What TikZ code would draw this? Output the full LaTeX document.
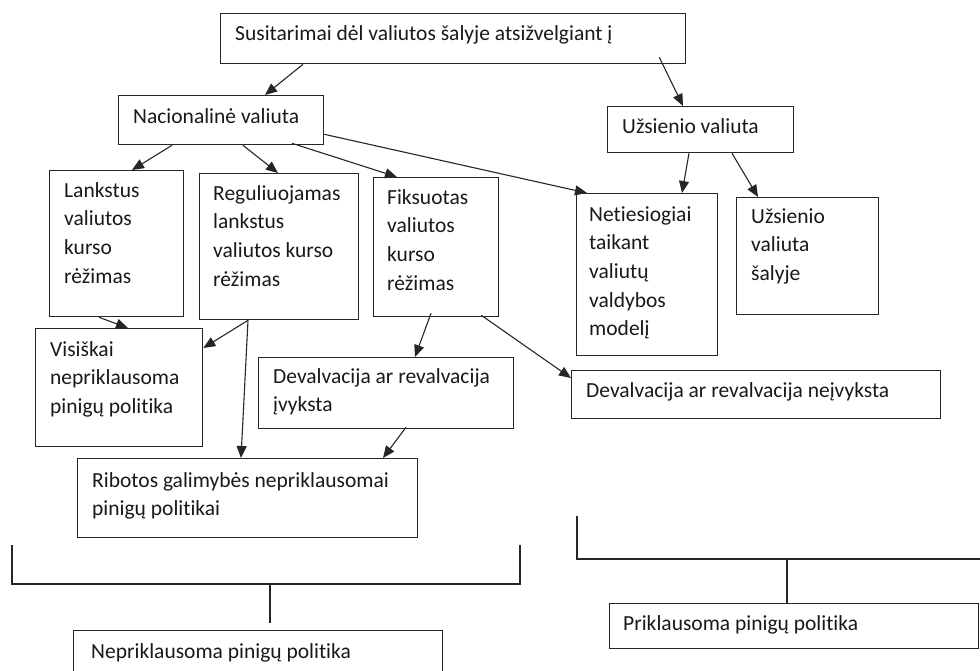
\documentclass[tikz,border=0pt]{standalone}
\usepackage{fontspec}
\setmainfont{Carlito}[RawFeature={-liga;-clig;-calt;-dlig}]
\usetikzlibrary{arrows.meta,calc}
\begin{document}
\begin{tikzpicture}[x=1pt,y=-1pt,
  box/.style={draw=black!85, line width=1.3pt, rectangle, inner sep=0pt, anchor=north west},
  txt/.style={anchor=base west, inner sep=0pt, font=\fontsize{21.5}{28.7}\selectfont, text=black!90},
  arr/.style={draw=black!85, line width=1.1pt, -{Triangle[length=12pt,width=10pt]}},
  ln/.style={draw=black!85, line width=1.1pt}]
\useasboundingbox (0,0) rectangle (980,670);
% boxes
\node[box, minimum width=465pt, minimum height=50pt] (top) at (220,13) {};
\node[box, minimum width=205pt, minimum height=49pt] (nac) at (118,95) {};
\node[box, minimum width=186pt, minimum height=46pt] (uzs) at (607,106) {};
\node[box, minimum width=134pt, minimum height=146pt] (lank) at (49,170) {};
\node[box, minimum width=159pt, minimum height=146pt] (reg) at (199,173) {};
\node[box, minimum width=125pt, minimum height=139pt] (fiks) at (373,177) {};
\node[box, minimum width=141pt, minimum height=162pt] (neti) at (576,193) {};
\node[box, minimum width=142pt, minimum height=117pt] (sal) at (736,197) {};
\node[box, minimum width=167pt, minimum height=118pt] (vis) at (35,328) {};
\node[box, minimum width=255pt, minimum height=71pt] (devi) at (258,357) {};
\node[box, minimum width=369pt, minimum height=48pt] (devn) at (571,370) {};
\node[box, minimum width=340pt, minimum height=79pt] (rib) at (77,458) {};
\node[box, minimum width=369pt, minimum height=60pt] (nep) at (73,630) {};
\node[box, minimum width=369pt, minimum height=45pt] (pri) at (609,603) {};
% texts
\node[txt] (ttop) at (235,40) {Susitarimai dėl valiutos šalyje atsižvelgiant į};
\node[txt] (tnac) at (133,123) {Nacionalinė valiuta};
\node[txt] (tuzs) at (622,133) {Užsienio valiuta};
\node[txt] (tlank) at (64,197) {\parbox[t]{120pt}{\raggedright Lankstus\\valiutos\\kurso\\rėžimas}};
\node[txt] (treg) at (213,200) {\parbox[t]{150pt}{\raggedright Reguliuojamas\\lankstus\\valiutos kurso\\rėžimas}};
\node[txt] (tfiks) at (387,204) {\parbox[t]{110pt}{\raggedright Fiksuotas\\valiutos\\kurso\\rėžimas}};
\node[txt] (tneti) at (589,221) {\parbox[t]{125pt}{\raggedright Netiesiogiai\\taikant\\valiutų\\valdybos\\modelį}};
\node[txt] (tsal) at (751,223) {\parbox[t]{125pt}{\raggedright Užsienio\\valiuta\\šalyje}};
\node[txt] (tvis) at (50,356) {\parbox[t]{150pt}{\raggedright Visiškai\\nepriklausoma\\pinigų politika}};
\node[txt] (tdevi) at (273,383) {\parbox[t]{240pt}{\raggedright Devalvacija ar revalvacija\\įvyksta}};
\node[txt] (tdevn) at (586,397) {Devalvacija ar revalvacija neįvyksta};
\node[txt] (trib) at (92,487) {\parbox[t]{320pt}{\raggedright Ribotos galimybės nepriklausomai\\pinigų politikai}};
\node[txt] (tnep) at (91,658) {Nepriklausoma pinigų politika};
\node[txt] (tpri) at (623,630) {Priklausoma pinigų politika};
% arrows
\draw[arr] ([xshift=83pt]top.south west) -- ([xshift=147pt]nac.north west);
\draw[arr] ([xshift=-27pt,yshift=7pt]top.south east) -- ([xshift=76pt]uzs.north west);
\draw[arr] ([xshift=54pt]nac.south west) -- ([xshift=83pt]lank.north west);
\draw[arr] ([xshift=125pt]nac.south west) -- ([xshift=79pt]reg.north west);
\draw[arr] ([xshift=174pt,yshift=2pt]nac.south west) -- ([xshift=24pt]fiks.north west);
\draw[arr] ([yshift=11pt]nac.south east) -- ([xshift=11pt]neti.north west);
\draw[arr] ([xshift=82pt]uzs.south west) -- ([xshift=106pt]neti.north west);
\draw[arr] ([xshift=125pt]uzs.south west) -- ([xshift=22pt]sal.north west);
\draw[arr] ([xshift=50pt]lank.south west) -- ([xshift=93pt]vis.north west);
\coordinate (rs) at ([xshift=49pt]reg.south west);
\draw[arr] (rs) -- ([yshift=-20pt]vis.north east);
\draw[arr] (rs) -- ([xshift=164pt]rib.north west);
\draw[arr] ([xshift=58pt,yshift=4pt]fiks.south west) -- ([xshift=157pt]devi.north west);
\draw[arr] ([xshift=-18pt,yshift=2pt]fiks.south east) -- ([yshift=-8pt]devn.north west);
\draw[arr] ([xshift=148pt,yshift=2pt]devi.south west) -- ([xshift=306pt]rib.north west);
% brackets
\coordinate (lb1) at (12,545);
\coordinate (lb2) at (520,545);
\coordinate (lbm) at (270,584);
\coordinate (lbe) at (270,623);
\draw[ln] (lb1) |- (lbm) -| (lb2);
\draw[ln] (lbm) -- (lbe);
\coordinate (rb1) at (577,516);
\coordinate (rbm) at (787,559);
\coordinate (rb2) at (980,559);
\draw[ln] (rb1) |- (rbm) -- (rb2);
\draw[ln] (rbm) -- (rbm |- pri.north);
\end{tikzpicture}
\end{document}
